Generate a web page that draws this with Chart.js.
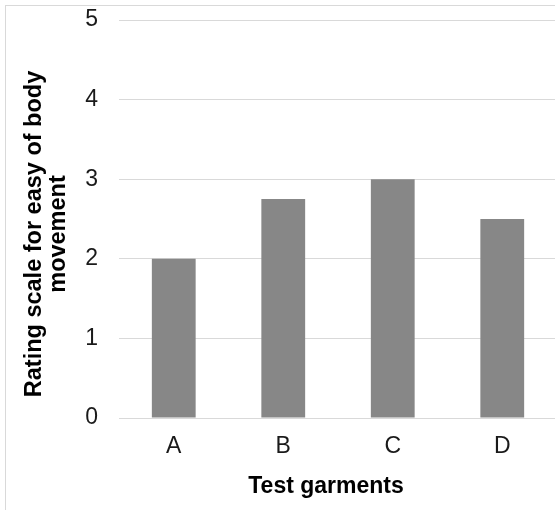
<!DOCTYPE html>
<html>
<head>
<meta charset="utf-8">
<script src="https://cdn.jsdelivr.net/npm/chart.js@4.4.1/dist/chart.umd.min.js"></script>
<style>
  html, body { margin: 0; padding: 0; background: #fff; overflow: hidden; }
  #wrap { position: relative; width: 555px; height: 510px; overflow: hidden; }
  #frame { position: absolute; left: 5px; top: 5px; width: 600px; height: 600px; border: 1px solid #d9d9d9; }
  #myChart { position: absolute; left: 0; top: 0; }
</style>
</head>
<body>
<div id="wrap">
  <div id="frame"></div>
  <canvas id="myChart" width="557" height="510"></canvas>
</div>
<script>
const garments = ["A", "B", "C", "D"];
const ratings = [2, 2.75, 3, 2.5];
const yTicks = [0, 1, 2, 3, 4, 5];
const xTitle = "Test garments";
const yTitle = ["Rating scale for easy of body", "movement"];

const fontName = "'Liberation Sans', Arial, sans-serif";

// axis titles drawn by hand so they sit where the original has them
const axisTitles = {
  id: "axisTitles",
  afterDraw(chart) {
    const ctx = chart.ctx;
    ctx.save();
    ctx.fillStyle = "#000";
    ctx.textAlign = "center";
    ctx.textBaseline = "middle";
    ctx.font = "bold 23px " + fontName;
    ctx.fillText(xTitle, 326, 487);
    ctx.translate(35, 234);
    ctx.rotate(-Math.PI / 2);
    ctx.font = "bold 23.5px " + fontName;
    yTitle.forEach((line, i) => ctx.fillText(line, 0, i * 23.4));
    ctx.restore();
  }
};

new Chart("myChart", {
  type: "bar",
  data: {
    labels: garments,
    datasets: [{
      data: ratings,
      backgroundColor: "#878787",
      barPercentage: 0.4,
      categoryPercentage: 1
    }]
  },
  options: {
    responsive: false,
    animation: false,
    layout: {padding: {top: 20, left: 0, right: 0, bottom: 0}},
    plugins: {legend: {display: false}, tooltip: {enabled: false}},
    scales: {
      x: {
        grid: {display: false},
        border: {color: "#d9d9d9", width: 1},
        ticks: {color: "#1a1a1a", font: {family: fontName, size: 23}, padding: 7},
        afterFit: function(s) { s.height = 92; }
      },
      y: {
        min: 0, max: 5,
        afterBuildTicks: function(s) { s.ticks = yTicks.map(v => ({value: v})); },
        grid: {color: "#d9d9d9", lineWidth: 1, drawTicks: false},
        border: {display: false},
        ticks: {color: "#1a1a1a", font: {family: fontName, size: 23}, padding: 21},
        afterFit: function(s) {
          s.width = 119;
          s.paddingTop = 0;
          s.paddingBottom = 0;
        }
      }
    }
  },
  plugins: [axisTitles]
});
</script>
</body>
</html>
